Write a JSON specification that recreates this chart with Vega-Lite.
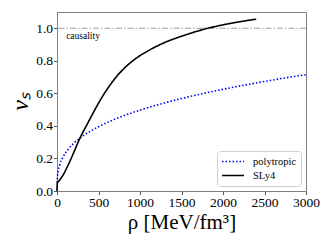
{
  "$schema": "https://vega.github.io/schema/vega-lite/v6.json",
  "width": 249,
  "height": 179,
  "autosize": "none",
  "padding": {"left": 57, "top": 12, "right": 26, "bottom": 58},
  "background": "white",
  "config": {
    "font": "Liberation Serif",
    "view": {"stroke": "#808080", "strokeWidth": 1},
    "axis": {"grid": false, "domainColor": "#808080", "tickColor": "#555", "labelFont": "Liberation Serif", "labelColor": "#000", "labelFontSize": 13.5, "labelFlush": false, "labelOverlap": false, "titleFont": "Liberation Serif", "titleColor": "#000", "titleFontWeight": "normal", "tickSize": 3.5, "labelPadding": 1}
  },
  "datasets": {
    "curves": [
      {"rho": 0, "vs": 0.05, "model": "polytropic"},
      {"rho": 2, "vs": 0.07, "model": "polytropic"},
      {"rho": 5, "vs": 0.086, "model": "polytropic"},
      {"rho": 12, "vs": 0.115, "model": "polytropic"},
      {"rho": 33, "vs": 0.161, "model": "polytropic"},
      {"rho": 73, "vs": 0.209, "model": "polytropic"},
      {"rho": 133, "vs": 0.255, "model": "polytropic"},
      {"rho": 200, "vs": 0.292, "model": "polytropic"},
      {"rho": 300, "vs": 0.334, "model": "polytropic"},
      {"rho": 400, "vs": 0.367, "model": "polytropic"},
      {"rho": 500, "vs": 0.395, "model": "polytropic"},
      {"rho": 700, "vs": 0.442, "model": "polytropic"},
      {"rho": 1000, "vs": 0.497, "model": "polytropic"},
      {"rho": 1250, "vs": 0.535, "model": "polytropic"},
      {"rho": 1500, "vs": 0.568, "model": "polytropic"},
      {"rho": 1750, "vs": 0.598, "model": "polytropic"},
      {"rho": 2000, "vs": 0.625, "model": "polytropic"},
      {"rho": 2250, "vs": 0.65, "model": "polytropic"},
      {"rho": 2500, "vs": 0.673, "model": "polytropic"},
      {"rho": 2750, "vs": 0.695, "model": "polytropic"},
      {"rho": 3000, "vs": 0.715, "model": "polytropic"},
      {"rho": 0, "vs": 0.0, "model": "SLy4"},
      {"rho": 3, "vs": 0.045, "model": "SLy4"},
      {"rho": 33, "vs": 0.068, "model": "SLy4"},
      {"rho": 73, "vs": 0.098, "model": "SLy4"},
      {"rho": 113, "vs": 0.137, "model": "SLy4"},
      {"rho": 153, "vs": 0.18, "model": "SLy4"},
      {"rho": 193, "vs": 0.226, "model": "SLy4"},
      {"rho": 233, "vs": 0.274, "model": "SLy4"},
      {"rho": 265, "vs": 0.312, "model": "SLy4"},
      {"rho": 386, "vs": 0.432, "model": "SLy4"},
      {"rho": 514, "vs": 0.552, "model": "SLy4"},
      {"rho": 640, "vs": 0.652, "model": "SLy4"},
      {"rho": 755, "vs": 0.725, "model": "SLy4"},
      {"rho": 900, "vs": 0.795, "model": "SLy4"},
      {"rho": 1117, "vs": 0.867, "model": "SLy4"},
      {"rho": 1300, "vs": 0.913, "model": "SLy4"},
      {"rho": 1518, "vs": 0.954, "model": "SLy4"},
      {"rho": 1780, "vs": 0.995, "model": "SLy4"},
      {"rho": 2000, "vs": 1.021, "model": "SLy4"},
      {"rho": 2200, "vs": 1.04, "model": "SLy4"},
      {"rho": 2400, "vs": 1.056, "model": "SLy4"}
    ]
  },
  "encoding": {
    "x": {"field": "rho", "type": "quantitative", "scale": {"domain": [0, 3000], "nice": false}, "axis": {"values": [0, 500, 1000, 1500, 2000, 2500, 3000], "format": "d", "title": "ρ [MeV/fm³]", "titleFontSize": 21, "titlePadding": 2}},
    "y": {"field": "vs", "type": "quantitative", "scale": {"domain": [0, 1.1], "nice": false}, "axis": {"values": [0, 0.2, 0.4, 0.6, 0.8, 1.0], "format": ".1f", "title": "vₛ", "titleFontSize": 24, "titleFontStyle": "italic", "titlePadding": 3}}
  },
  "layer": [
    {
      "data": {"values": [{"vs": 1.0}]},
      "mark": {"type": "rule", "color": "#a0a0a0", "strokeWidth": 1.2, "strokeDash": [6, 2, 1.5, 2]},
      "encoding": {"x": null}
    },
    {
      "data": {"values": [{"rho": 110, "vs": 0.955, "label": "causality"}]},
      "mark": {"type": "text", "align": "left", "baseline": "middle", "fontSize": 9.5, "font": "Liberation Serif", "color": "#000"},
      "encoding": {
        "text": {"field": "label"}
      }
    },
    {
      "data": {"name": "curves"},
      "mark": {"type": "line", "strokeWidth": 1.6, "interpolate": "monotone"},
      "encoding": {
        "color": {"field": "model", "type": "nominal", "scale": {"domain": ["polytropic", "SLy4"], "range": ["#0000ff", "#000000"]}, "legend": {"title": null, "orient": "none", "legendX": 160, "legendY": 139, "symbolType": "stroke", "symbolSize": 480, "clipHeight": 13, "symbolStrokeWidth": 1.6, "labelFontSize": 10.5, "labelFont": "Liberation Serif", "labelOffset": 8, "fillColor": "white", "strokeColor": "#d0d0d0", "padding": 4, "cornerRadius": 3, "rowPadding": 1}},
        "strokeDash": {"field": "model", "type": "nominal", "scale": {"domain": ["polytropic", "SLy4"], "range": [[1.5, 2], [1, 0]]}, "legend": null}
      }
    }
  ]
}
